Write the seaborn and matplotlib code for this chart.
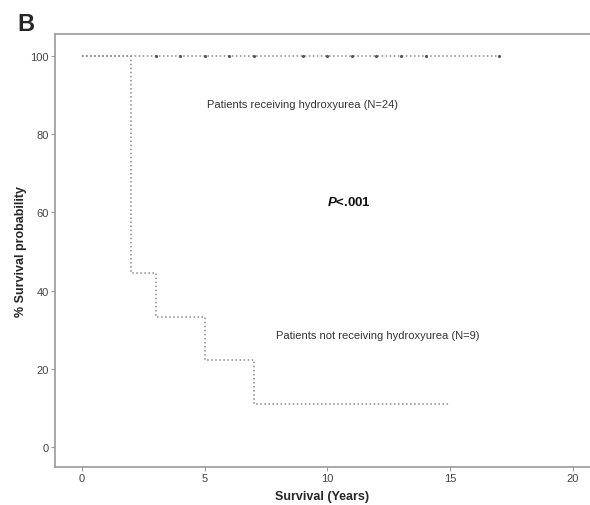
import matplotlib
matplotlib.use("Agg")
import matplotlib.pyplot as plt
import pandas as pd
import seaborn as sns

sns.set_style('white')
plt.rcParams['font.family'] = ['Liberation Sans', 'DejaVu Sans']
plt.rcParams['mathtext.fontset'] = 'custom'
plt.rcParams['mathtext.bfit'] = 'Liberation Sans:bold:italic'

# Kaplan-Meier steps
hu_times = [0, 17]
hu_surv = [100, 100]
no_hu_times = [0, 2, 3, 5, 7, 15]
no_hu_surv = [100, 44.4, 33.3, 22.2, 11.1, 11.1]
# censored observations (hydroxyurea group)
hu_censor_times = [3, 4, 5, 6, 7, 9, 10, 11, 12, 13, 14, 17]
hu_censor_surv = [100] * len(hu_censor_times)

df_hu = pd.DataFrame({"time": hu_times, "surv": hu_surv})
df_no = pd.DataFrame({"time": no_hu_times, "surv": no_hu_surv})
df_cens = pd.DataFrame({"time": hu_censor_times, "surv": hu_censor_surv})

fig = plt.figure(figsize=(5.9, 5.06), dpi=100)
ax = fig.add_axes([0.0932, 0.0751, 0.9068, 0.8557])

sns.lineplot(data=df_no, x="time", y="surv", ax=ax, estimator=None, sort=False,
             drawstyle='steps-post', color='#8a8a8a', linestyle=':', linewidth=1.1)
sns.lineplot(data=df_hu, x="time", y="surv", ax=ax, estimator=None, sort=False,
             drawstyle='steps-post', color='#8a8a8a', linestyle=':', linewidth=1.1)
sns.scatterplot(data=df_cens, x="time", y="surv", ax=ax, color='#555555',
                s=5, marker='o', linewidth=0, zorder=3)

ax.set_xlim(-1.1, 20.7)
ax.set_ylim(-5.1, 105.6)
ax.set_xticks([0, 5, 10, 15, 20])
ax.set_yticks([0, 20, 40, 60, 80, 100])

for side in ['left', 'bottom', 'top']:
    ax.spines[side].set_color('#9a9a9a')
    ax.spines[side].set_linewidth(1.2)
ax.spines['right'].set_visible(False)
ax.tick_params(axis='both', direction='out', length=3, width=0.8, color='#9a9a9a',
               labelsize=8, labelcolor='#444444', pad=1.5,
               bottom=True, left=True)

ax.set_xlabel('Survival (Years)', fontsize=9, fontweight='bold', labelpad=5)
ax.set_ylabel('% Survival probability', fontsize=9, fontweight='bold', labelpad=2)

ax.text(5.1, 87.7, 'Patients receiving hydroxyurea (N=24)', fontsize=8,
        color='#333333', va='center', ha='left')
ax.text(7.9, 28.6, 'Patients not receiving hydroxyurea (N=9)', fontsize=8,
        color='#333333', va='center', ha='left')
ax.text(10.0, 62.7, r'$\bfit{P}$<.001', fontsize=9.5, fontweight='bold',
        color='#111111', va='center', ha='left')

fig.text(0.03, 0.975, 'B', fontsize=17, fontweight='bold', va='top', ha='left')

fig.savefig('out.png', dpi=100)
